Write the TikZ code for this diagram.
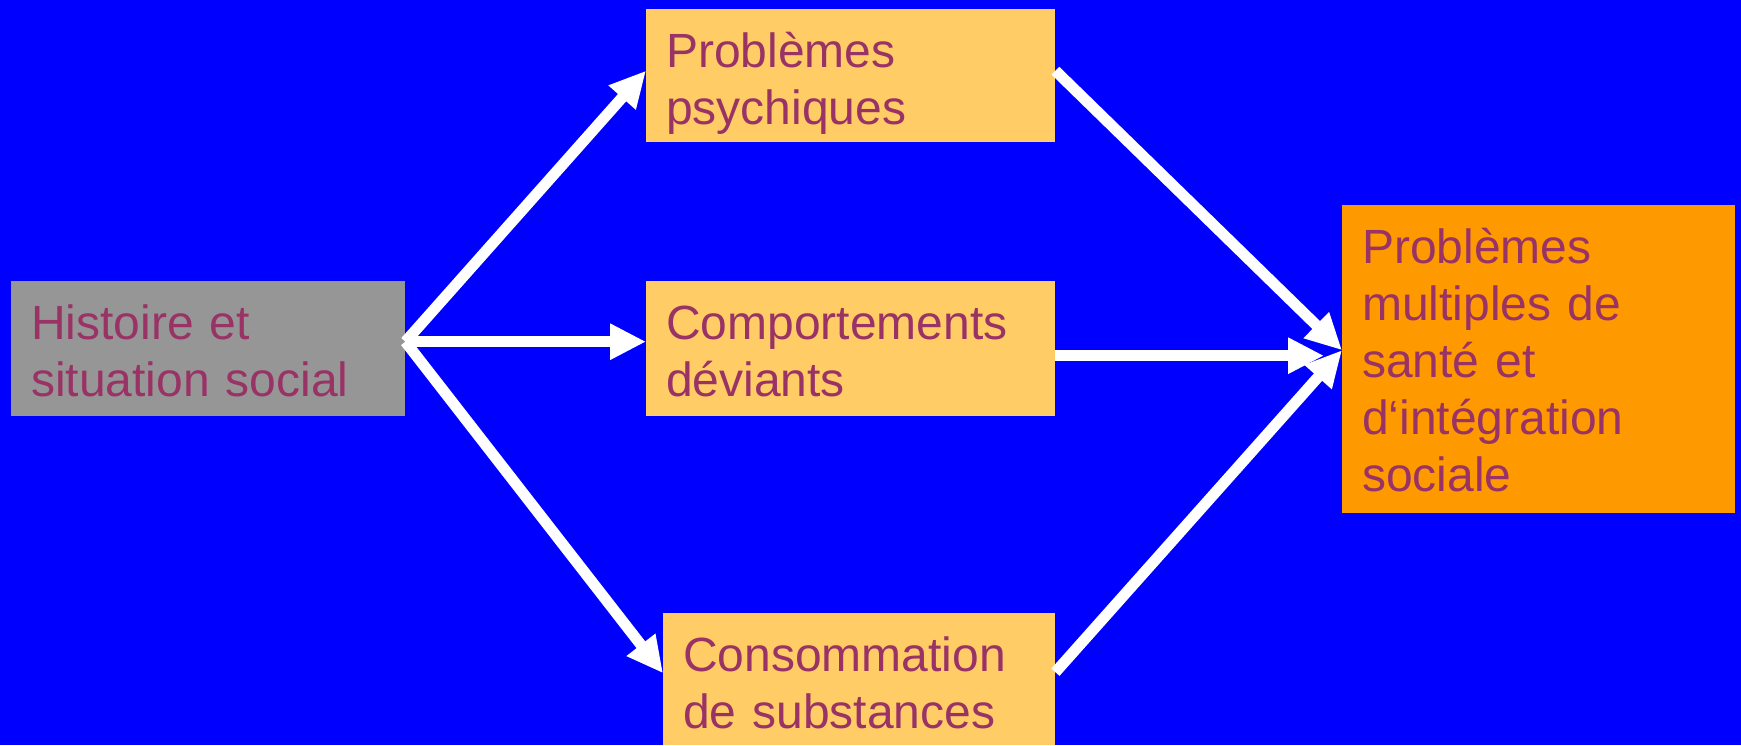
\documentclass[tikz,border=0pt]{standalone}
\usepackage{fontspec}
\setmainfont{Liberation Sans}
\usetikzlibrary{arrows.meta}
\definecolor{bgblue}{HTML}{0000FF}
\definecolor{greybox}{HTML}{969696}
\definecolor{palebox}{HTML}{FFCC66}
\definecolor{deepbox}{HTML}{FF9900}
\definecolor{plum}{HTML}{993366}
\begin{document}
\begin{tikzpicture}[x=1pt, y=-1pt,
  box/.style={anchor=north west, inner xsep=20pt, inner ysep=0pt, align=left, text=plum, text height=58pt, font=\fontsize{48}{57}\selectfont},
  arr/.style={white, line width=11pt, -{Triangle[length=36pt, width=34pt]}}]
\fill[bgblue] (0,0) rectangle (1741,745);
\node (hist) at (11,281)[box, fill=greybox, text width=354pt, text depth=77pt]{Histoire et\\situation social};
\node (psych) at (646,9)[box, fill=palebox, text width=369pt, text depth=75pt]{Problèmes\\psychiques};
\node (comport) at (646,281)[box, fill=palebox, text width=369pt, text depth=77pt]{Comportements\\déviants};
\node (consom) at (663,613)[box, fill=palebox, text width=352pt, text depth=74pt]{Consommation\\de substances};
\node (multi) at (1342,205)[box, fill=deepbox, text width=353pt, text depth=250pt]{Problèmes\\multiples de\\santé et\\d‘intégration\\sociale};
\coordinate (fork) at ([yshift=7pt]hist.east);
\coordinate (join) at ([yshift=9pt]multi.west);
\coordinate (midout) at ([yshift=-7pt]comport.east);
\draw[arr] (fork) -- ([yshift=5pt]psych.west);
\draw[arr] (fork) -- (fork -| comport.west);
\draw[arr] (fork) -- ([yshift=6pt]consom.west);
\draw[arr] ([yshift=5pt]psych.east) -- (join);
\draw[arr] (midout) -- ([xshift=-18pt]midout -| join);
\draw[arr] ([yshift=7pt]consom.east) -- (join);
\end{tikzpicture}
\end{document}
